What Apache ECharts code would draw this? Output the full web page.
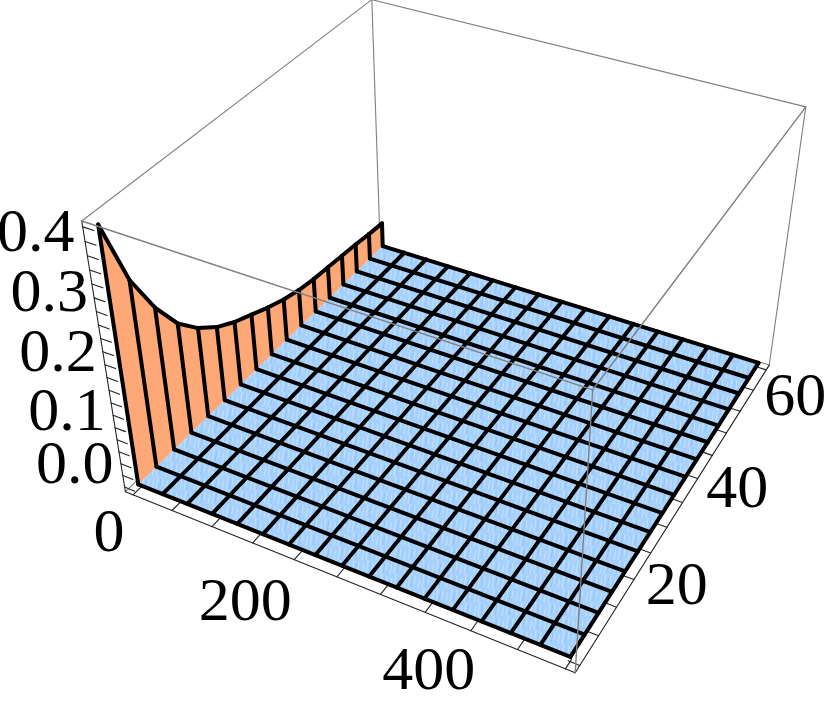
<!DOCTYPE html>
<html>
<head>
<meta charset="utf-8">
<title>surface</title>
<style>
  html, body { margin: 0; padding: 0; background: #fff; }
  #main { width: 830px; height: 710px; }
</style>
<script src="https://cdn.jsdelivr.net/npm/echarts@6/dist/echarts.min.js"></script>
</head>
<body>
<div id="main"></div>
<script>
// mesh lines of the surface
const xMesh = [0, 31.25, 62.5, 93.75, 125, 156.25, 187.5, 218.75, 250, 281.25, 312.5, 343.75, 375, 406.25, 437.5, 468.75, 500];
const yMesh = [0, 3.75, 7.5, 11.25, 15, 18.75, 22.5, 26.25, 30, 33.75, 37.5, 41.25, 45, 48.75, 52.5, 56.25, 60];
// height of the ridge at x = 0, one per yMesh entry (rest of the surface is flat at 0)
const ridge = [0.4, 0.298, 0.232, 0.182, 0.149, 0.125, 0.108, 0.095, 0.082, 0.071, 0.063, 0.058, 0.055, 0.052, 0.049, 0.045, 0.042];

const xTicks = [0, 50, 100, 150, 200, 250, 300, 350, 400, 450, 500];
const yTicks = [0, 5, 10, 15, 20, 25, 30, 35, 40, 45, 50, 55, 60];
const zTicks = [0, 0.02, 0.04, 0.06, 0.08, 0.1, 0.12, 0.14, 0.16, 0.18, 0.2, 0.22, 0.24, 0.26, 0.28, 0.3, 0.32, 0.34, 0.36, 0.38, 0.4];
const xLabels = ["0", "200", "400"];
const yLabels = ["20", "40", "60"];
const zLabels = ["0.0", "0.1", "0.2", "0.3", "0.4"];

// plot box, 2% padding round the surface
const xRange = [-10, 510], yRange = [-1.2, 61.2], zRange = [-0.008, 0.408];

// where the box corners land on the page, used to fit the camera
const camera = [
  [0, 0, 0, 125, 492], [1, 0, 0, 576, 673], [1, 1, 0, 768, 366], [0, 1, 0, 381, 243],
  [0, 0, 1, 82, 222], [1, 0, 1, 592, 388], [1, 1, 1, 807, 107], [0, 1, 1, 371, 0]
];

function solve(A, b) {
  const n = b.length;
  for (let i = 0; i < n; i++) {
    let m = i;
    for (let r = i + 1; r < n; r++) if (Math.abs(A[r][i]) > Math.abs(A[m][i])) m = r;
    [A[i], A[m]] = [A[m], A[i]];
    [b[i], b[m]] = [b[m], b[i]];
    for (let r = i + 1; r < n; r++) {
      const f = A[r][i] / A[i][i];
      for (let c = i; c < n; c++) A[r][c] -= f * A[i][c];
      b[r] -= f * b[i];
    }
  }
  for (let i = n - 1; i >= 0; i--) {
    for (let c = i + 1; c < n; c++) b[i] -= A[i][c] * b[c];
    b[i] /= A[i][i];
  }
  return b;
}

function fitCamera() {
  const S = 800; // keep the page numbers near 1
  const ATA = [], ATb = new Array(11).fill(0);
  for (let i = 0; i < 11; i++) ATA.push(new Array(11).fill(0));
  function add(row, rhs) {
    for (let i = 0; i < 11; i++) {
      ATb[i] += row[i] * rhs;
      for (let j = 0; j < 11; j++) ATA[i][j] += row[i] * row[j];
    }
  }
  camera.forEach(([X, Y, Z, pu, pv]) => {
    const u = pu / S, v = pv / S;
    add([X, Y, Z, 1, 0, 0, 0, 0, -u * X, -u * Y, -u * Z], u);
    add([0, 0, 0, 0, X, Y, Z, 1, -v * X, -v * Y, -v * Z], v);
  });
  const p = solve(ATA, ATb);
  return function (X, Y, Z) {
    const w = p[8] * X + p[9] * Y + p[10] * Z + 1;
    return [S * (p[0] * X + p[1] * Y + p[2] * Z + p[3]) / w, S * (p[4] * X + p[5] * Y + p[6] * Z + p[7]) / w];
  };
}
const project = fitCamera();

function to2d(x, y, z) {
  return project(
    (x - xRange[0]) / (xRange[1] - xRange[0]),
    (y - yRange[0]) / (yRange[1] - yRange[0]),
    (z - zRange[0]) / (zRange[1] - zRange[0])
  );
}

const ORANGE = "#ffa877", GRAY = "#808080";
const X0 = xRange[0], X1 = xRange[1], Y0 = yRange[0], Y1 = yRange[1], Z0 = zRange[0], Z1 = zRange[1];

// the floor colour in the picture is streaky, a small repeating tile does that
function blueTile() {
  const c = document.createElement("canvas");
  c.width = 14;
  c.height = 14;
  const g = c.getContext("2d");
  g.fillStyle = "#a6d1fd";
  g.fillRect(0, 0, 14, 14);
  g.strokeStyle = "#c4e1ff";
  g.lineWidth = 1;
  [[2, 14, 4, 0], [8, 10, 9, 2], [12, 14, 14, 4]].forEach(s => {
    g.beginPath();
    g.moveTo(s[0], s[1]);
    g.lineTo(s[2], s[3]);
    g.stroke();
  });
  g.strokeStyle = "#93c4f8";
  g.beginPath();
  g.moveTo(5, 13);
  g.lineTo(7, 3);
  g.stroke();
  return { image: c, repeat: "repeat" };
}
const BLUE = blueTile();

// every segment is [x,y,z,x,y,z] in data space
const hiddenEdges = [
  [X0, Y0, Z1, X0, Y1, Z1], [X0, Y1, Z1, X1, Y1, Z1], [X0, Y1, Z1, X0, Y1, Z0],
  [X1, Y1, Z1, X1, Y1, Z0], [X0, Y0, Z0, X0, Y1, Z0], [X0, Y1, Z0, X1, Y1, Z0]
];
const frontEdges = [[X0, Y0, Z1, X1, Y0, Z1], [X1, Y0, Z1, X1, Y1, Z1], [X1, Y0, Z1, X1, Y0, Z0]];
const axisEdges = [[X0, Y0, Z0, X0, Y0, Z1], [X0, Y0, Z0, X1, Y0, Z0], [X1, Y0, Z0, X1, Y1, Z0]];

const tickSegs = [];
xTicks.forEach(v => tickSegs.push([v, Y0, Z0, v, Y0 + 1.6, Z0]));
yTicks.forEach(v => tickSegs.push([X1, v, Z0, X1 - 12, v, Z0]));
zTicks.forEach(v => tickSegs.push([X0, Y0, v, X0 + 13, Y0, v]));

// the foot of the wall carries no mesh line in the picture, so x = 0 only gets the ridge and the wall lines
const meshSegs = [];
xMesh.forEach(v => {
  if (v > 0) meshSegs.push([v, 0, 0, v, 60, 0]);
});
yMesh.forEach((v, j) => {
  meshSegs.push([0, v, ridge[j], 0, v, 0]);
  meshSegs.push([0, v, 0, 500, v, 0]);
});
ridge.forEach((h, j) => {
  if (j < ridge.length - 1) meshSegs.push([0, yMesh[j], h, 0, yMesh[j + 1], ridge[j + 1]]);
});

const floorCells = [];
for (let i = 0; i < xMesh.length - 1; i++) {
  for (let j = 0; j < yMesh.length - 1; j++) floorCells.push([xMesh[i], yMesh[j], xMesh[i + 1], yMesh[j + 1]]);
}
const wallCells = [];
for (let j = 0; j < yMesh.length - 1; j++) wallCells.push([yMesh[j], ridge[j], yMesh[j + 1], ridge[j + 1]]);

// label data: value position on the axis edge, text offset from it
const labelOffset = {
  x: [[-24, 40], [-49, 44], [-42, 42]],
  y: [[26, 35], [25, 35], [29, 29]],
  z: [[-50, -20], [-48, -14], [-47, -10], [-45, -3], [-47, 8]]
};
const labelItems = [];
[0, 200, 400].forEach((v, i) => labelItems.push([v, Y0, Z0, xLabels[i], labelOffset.x[i][0], labelOffset.x[i][1]]));
[20, 40, 60].forEach((v, i) => labelItems.push([X1, v, Z0, yLabels[i], labelOffset.y[i][0], labelOffset.y[i][1]]));
[0, 0.1, 0.2, 0.3, 0.4].forEach((v, i) => labelItems.push([X0, Y0, v, zLabels[i], labelOffset.z[i][0], labelOffset.z[i][1]]));

function segSeries(data, color, width, z) {
  return {
    type: "custom",
    coordinateSystem: "cartesian2d",
    silent: true,
    clip: false,
    z: z,
    data: data,
    renderItem(params, api) {
      const s = data[params.dataIndex];
      const a = api.coord(to2d(s[0], s[1], s[2]));
      const b = api.coord(to2d(s[3], s[4], s[5]));
      return {
        type: "line",
        shape: { x1: a[0], y1: a[1], x2: b[0], y2: b[1] },
        style: { stroke: color, lineWidth: width, lineCap: "round", fill: null }
      };
    }
  };
}

function polySeries(data, color, corners, z) {
  return {
    type: "custom",
    coordinateSystem: "cartesian2d",
    silent: true,
    clip: false,
    z: z,
    data: data,
    renderItem(params, api) {
      const pts = corners(data[params.dataIndex]).map(c => api.coord(to2d(c[0], c[1], c[2])));
      return {
        type: "polygon",
        shape: { points: pts },
        style: typeof color === "string" ? { fill: color, stroke: color, lineWidth: 0.6 } : { fill: color }
      };
    }
  };
}

const chart = echarts.init(document.getElementById("main"));
chart.setOption({
  animation: false,
  backgroundColor: "#fff",
  grid: { left: 0, right: 0, top: 0, bottom: 0 },
  xAxis: { type: "value", min: 0, max: 830, show: false },
  yAxis: { type: "value", min: 0, max: 710, inverse: true, show: false },
  series: [
    segSeries(hiddenEdges, GRAY, 1.1, 1),
    segSeries(axisEdges, "#222", 1.1, 2),
    segSeries(tickSegs, "#222", 1.1, 2),
    polySeries(wallCells, ORANGE, c => [[0, c[0], c[1]], [0, c[2], c[3]], [0, c[2], 0], [0, c[0], 0]], 3),
    polySeries(floorCells, BLUE, c => [[c[0], c[1], 0], [c[2], c[1], 0], [c[2], c[3], 0], [c[0], c[3], 0]], 4),
    segSeries(meshSegs, "#000", 4, 5),
    segSeries(frontEdges, GRAY, 1.4, 6),
    {
      type: "custom",
      coordinateSystem: "cartesian2d",
      silent: true,
      clip: false,
      z: 7,
      data: labelItems,
      renderItem(params, api) {
        const it = labelItems[params.dataIndex];
        const p = api.coord(to2d(it[0], it[1], it[2]));
        return {
          type: "text",
          style: {
            text: it[3],
            x: p[0] + it[4],
            y: p[1] + it[5],
            fill: "#000",
            font: "62px 'Liberation Serif'",
            align: "center",
            verticalAlign: "middle"
          }
        };
      }
    }
  ]
});
</script>
</body>
</html>
